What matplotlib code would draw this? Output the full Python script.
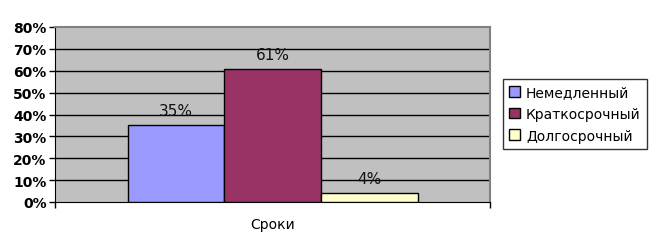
import matplotlib
matplotlib.use("Agg")
import matplotlib.pyplot as plt
from matplotlib.patches import Patch

categories = ["Сроки"]
series = ["Немедленный", "Краткосрочный", "Долгосрочный"]
values = [35, 61, 4]
colors = ["#9999FF", "#993366", "#FFFFCC"]
yticks = [0, 10, 20, 30, 40, 50, 60, 70, 80]

plt.rcParams['font.family'] = ['DejaVu Sans']
fig = plt.figure(figsize=(6.5, 2.51), dpi=100)
ax = fig.add_axes([55/650, 1 - 203/251, 435/650, 175/251])
ax.set_facecolor("#C0C0C0")

w = 1/4.5
for i, (s, v, c) in enumerate(zip(series, values, colors)):
    x = 0.5 + (i - 1) * w
    ax.bar(x, v, width=w, color=c, edgecolor="black", linewidth=1, zorder=3)
    ax.text(x, v + 3.2, f"{v}%", ha="center", va="bottom", fontsize=11, color="#111111", zorder=4)

ax.set_xlim(0, 1)
ax.set_ylim(0, 80)
ax.set_yticks(yticks)
ax.set_yticklabels([f"{t}%" for t in yticks], fontsize=10, fontweight="bold")
for t in yticks[1:-1]:
    ax.axhline(t, color="black", linewidth=1, zorder=1)
ax.set_xticks([0, 1])
ax.set_xticklabels(["", ""])
ax.tick_params(axis="x", length=4, width=1, direction="out")
ax.tick_params(axis="y", length=4, width=1, direction="out", pad=2)
ax.set_xlabel(categories[0], fontsize=10, labelpad=3)
for side in ["top", "right"]:
    ax.spines[side].set_color("#808080")
    ax.spines[side].set_linewidth(1.5)
ax.spines["left"].set_color("black")
ax.spines["bottom"].set_color("black")

handles = [Patch(facecolor=c, edgecolor="black", label=s) for s, c in zip(series, colors)]
leg = fig.legend(handles=handles, loc="upper left", bbox_to_anchor=(503/650, 1 - 80/251),
                 fontsize=10, frameon=True, fancybox=False, edgecolor="black",
                 handlelength=0.8, handleheight=0.8, handletextpad=0.4, borderpad=0.45,
                 labelspacing=0.55, borderaxespad=0)
leg.get_frame().set_linewidth(1)

fig.savefig("out.png", dpi=100, facecolor="white")
